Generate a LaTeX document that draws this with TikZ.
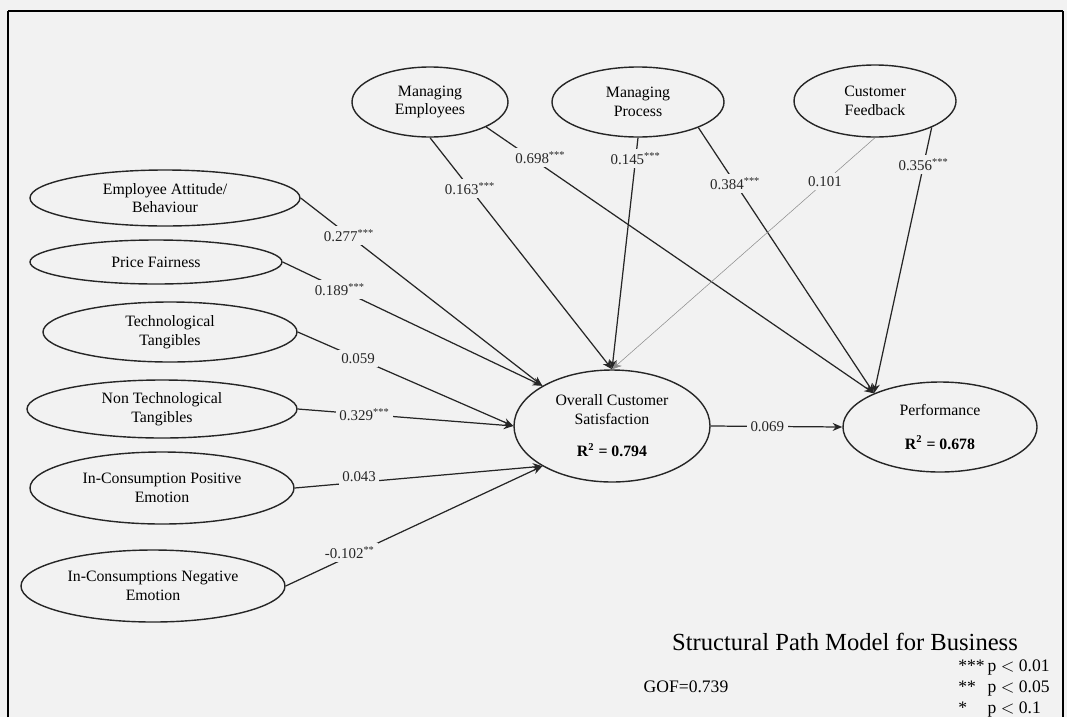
\documentclass[tikz,border=0pt]{standalone}
\usepackage{fontspec}
\setmainfont{Liberation Serif}
\usetikzlibrary{shapes.geometric}
\usetikzlibrary{arrows.meta,arrows}
\usetikzlibrary{positioning}
\usetikzlibrary{calc, backgrounds}
\definecolor{paper}{gray}{0.95}

\begin{document}
\begin{tikzpicture}[x=0.02cm,y=-0.02cm,>={Stealth[length=5.5pt,width=4.5pt]}]
\tikzstyle{latent node}=[ellipse,draw=black!85,line width=0.8pt,inner sep=0pt,align=center,font=\fontsize{9}{10.5}\selectfont]
\tikzstyle{coef node}=[fill=paper,inner sep=2pt,font=\fontsize{8.5}{10}\selectfont]
\tikzset{
  esize/.style 2 args = {minimum width=#1*0.02cm, minimum height=#2*0.02cm},
  path line/.style = {color=black!85, line width=0.7pt},
  weak line/.style = {draw=black!45, line width=0.3pt}
}
\fill[paper] (0,0) rectangle (1067,717);
\useasboundingbox (0,0) rectangle (1067,717);
\draw[line width=1.6pt] (8,717) -- (8,11);
\draw[line width=0.9pt] (8,11) -- (1063,11);
\draw[line width=1.2pt] (1063,11) -- (1063,717);

    % exogenous constructs, top row
    \node[latent node, esize={156}{70}] (me) at (430,102) {Managing\\Employees};
    \node[latent node, esize={172}{70}] (mp) at (638,102) {Managing\\Process};
    \node[latent node, esize={162}{72}] (cf) at (875,101) {Customer\\Feedback};
    % exogenous constructs, left column
    \node[latent node, esize={270}{56}] (ea) at (165,198) {Employee Attitude/\\Behaviour};
    \node[latent node, esize={252}{44}] (pf) at (156,262) {Price Fairness};
    \node[latent node, esize={254}{60}] (tt) at (170,332) {Technological\\Tangibles};
    \node[latent node, esize={270}{58}] (nt) at (162,409) {Non Technological\\Tangibles};
    \node[latent node, esize={264}{72}] (pe) at (162,488) {In-Consumption Positive\\Emotion};
    \node[latent node, esize={264}{72}] (ne) at (153,586) {In-Consumptions Negative\\Emotion};
    % endogenous constructs
    \node[latent node, esize={196}{112}] (ocs) at (612,426) {Overall Customer\\Satisfaction\\[8pt]\textbf{R\textsuperscript{2} = 0.794}};
    \node[latent node, esize={194}{90}] (perf) at (940,427) {Performance\\[9pt]\textbf{R\textsuperscript{2} = 0.678}};
    %%%%%%%%%%%%%%%%%%%%%%%%%%%%%%%%%%%
    \path[->, path line]
      (ea.east) edge node[coef node, pos=0.2] {0.277\textsuperscript{***}} (ocs.150)
      (pf.east) edge node[coef node, pos=0.22] {0.189\textsuperscript{***}} (ocs.150)
      (tt.east) edge node[coef node, pos=0.28] {0.059} (ocs.west)
      (nt.east) edge node[coef node, pos=0.31] {0.329\textsuperscript{***}} (ocs.west)
      (pe.east) edge node[coef node, pos=0.26, yshift=3pt] {0.043} (ocs.210)
      (ne.east) edge node[coef node, pos=0.25, yshift=2pt] {-0.102\textsuperscript{**}} (ocs.210)
      %%%%%%%%%%%%%%%%%
      (me.south) edge node[coef node, pos=0.22] {0.163\textsuperscript{***}} (ocs.north)
      (me.-24) edge node[coef node, pos=0.14, yshift=4pt] {0.698\textsuperscript{***}} (perf.153)
      (mp.south) edge node[coef node, pos=0.09] {0.145\textsuperscript{***}} (ocs.north)
      (mp.-23) edge node[coef node, pos=0.21] {0.384\textsuperscript{***}} (perf.153)
      (cf.-25) edge node[coef node, pos=0.14] {0.356\textsuperscript{***}} (perf.153)
      (cf.south) edge[weak line] node[coef node, pos=0.19] {0.101} (ocs.north)
      (ocs.east) edge node[coef node, pos=0.43] {0.069} (perf.west)
    ;
    %%%%%%%%%%%%%%%%%%%%%%%%%%%%%%%%%%%
    \node[font=\fontsize{14}{16}\selectfont] (title) at (845,642) {Structural Path Model for Business};
    \node[font=\fontsize{10}{12}\selectfont] (gof) at (686,687) {GOF=0.739};
    \node[anchor=north west, inner sep=0pt, font=\fontsize{10}{12}\selectfont] (sig) at (958,656)
      {\begin{tabular}{@{}l@{\,}l@{}}{***} & p $<$ 0.01\\ {**} & p $<$ 0.05\\ {*} & p $<$ 0.1\end{tabular}};
\end{tikzpicture}
\end{document}
